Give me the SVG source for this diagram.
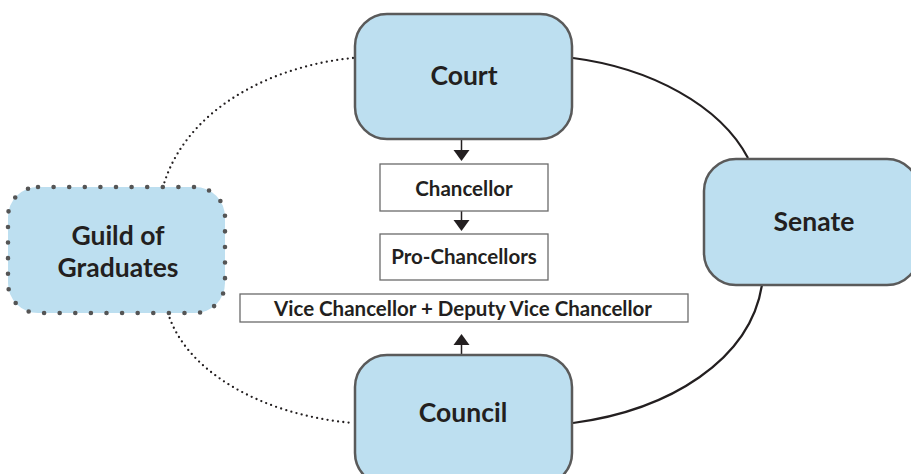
<svg xmlns="http://www.w3.org/2000/svg" width="911" height="474" viewBox="0 0 911 474">
<style>
.node{fill:#bddff0;stroke:#5a5a5a;stroke-width:2.5}
.dotnode{fill:#bddff0;stroke:#555;stroke-width:4.6;stroke-linecap:round;stroke-dasharray:0 15.6}
.box{fill:#fff;stroke:#6a6a6a;stroke-width:1.3}
.t{font-family:Lato,"Open Sans","Liberation Sans",sans-serif;font-weight:bold;fill:#231f20;text-anchor:middle}
.big{font-size:26.5px}
.small{font-size:20.5px}
.solid{fill:none;stroke:#231f20;stroke-width:2.2}
.dotted{fill:none;stroke:#231f20;stroke-width:2.3;stroke-linecap:round;stroke-dasharray:0 5.3}
.arr{stroke:#231f20;stroke-width:1.5}
.head{fill:#231f20}
</style>
<rect width="911" height="474" fill="#fff"/>
<g id="connectors">
<path class="solid" d="M573,58 C650,68 720,105 748,158"/>
<path class="solid" d="M762,285 C750,360 670,410 573,423"/>
<path class="dotted" d="M353,58 C270,66 185,110 163,187"/>
<path class="dotted" d="M168,313 C185,370 260,415 353,423"/>
<line class="arr" x1="461.5" y1="139" x2="461.5" y2="152"/>
<polygon class="head" points="453.5,150 469.5,150 461.5,161"/>
<line class="arr" x1="461.5" y1="211" x2="461.5" y2="222"/>
<polygon class="head" points="453.5,220 469.5,220 461.5,231"/>
<line class="arr" x1="461.5" y1="343" x2="461.5" y2="355"/>
<polygon class="head" points="453.5,345 469.5,345 461.5,334"/>
</g>
<g id="court">
<rect class="node" x="355" y="14" width="217" height="125" rx="32"/>
<text class="t big" x="464" y="85">Court</text>
</g>
<g id="senate">
<rect class="node" x="704" y="159" width="215" height="126" rx="32"/>
<text class="t big" x="814" y="231">Senate</text>
</g>
<g id="guild">
<rect class="dotnode" x="8" y="187" width="217" height="126" rx="30"/>
<text class="t big" x="118" y="245">Guild of</text>
<text class="t big" x="118" y="277">Graduates</text>
</g>
<g id="council">
<rect class="node" x="355" y="355" width="217" height="130" rx="32"/>
<text class="t big" x="463" y="422">Council</text>
</g>
<g id="chancellor">
<rect class="box" x="380" y="164" width="168" height="47"/>
<text class="t small" x="464" y="196">Chancellor</text>
</g>
<g id="pro-chancellors">
<rect class="box" x="380" y="234" width="168" height="46"/>
<text class="t small" x="464" y="264">Pro-Chancellors</text>
</g>
<g id="vice-chancellor">
<rect class="box" x="240" y="294" width="448" height="28"/>
<text class="t small" x="463" y="316">Vice Chancellor + Deputy Vice Chancellor</text>
</g>
</svg>
